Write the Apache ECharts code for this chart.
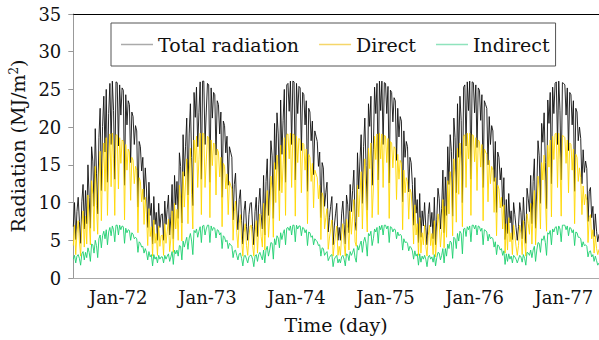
<!DOCTYPE html>
<html>
<head>
<meta charset="utf-8">
<script src="https://cdn.jsdelivr.net/npm/echarts/dist/echarts.min.js"></script>
<style>
  html, body { margin: 0; padding: 0; background: #fff; }
  #chart { width: 599px; height: 340px; }
</style>
</head>
<body>
<div id="chart"></div>
<script>
// daily radiation, one value every 5 days from 1 Jul 1971
// (MJ/m2), split by season year Jul-Jun
const total7172 = [
  6.8, 10.0, 5.1, 8.8, 10.7, 7.5, 4.6, 10.1, 12.4, 6.5,
  11.6, 7.2, 15.0, 10.7, 6.6, 17.4, 15.5, 9.5, 19.8, 13.9,
  8.5, 18.6, 22.5, 11.6, 20.1, 24.1, 16.7, 25.0, 12.7, 21.8,
  25.8, 17.7, 26.1, 22.2, 13.1, 26.0, 25.9, 17.5, 25.6, 21.6,
  25.2, 24.9, 12.3, 24.3, 20.3, 23.5, 23.0, 15.3, 22.0, 21.4,
  17.7, 20.2, 19.5, 9.4, 18.1, 17.4, 14.2, 16.0, 10.4, 14.6,
  11.8, 6.7, 12.7, 8.3, 9.9, 4.5, 10.8, 7.1, 8.7, 5.0,
  9.9, 6.7, 8.4,
];
const direct7172 = [
  4.3, 7.0, 3.1, 5.9, 7.6, 4.9, 2.9, 6.9, 8.9, 4.1,
  8.2, 4.5, 11.0, 7.3, 4.4, 12.9, 11.1, 6.2, 14.8, 9.6,
  5.8, 13.4, 16.8, 7.6, 14.5, 17.9, 11.5, 18.6, 8.3, 15.7,
  19.1, 12.1, 19.2, 15.8, 8.3, 19.0, 18.9, 11.8, 18.6, 15.2,
  18.3, 18.1, 7.7, 17.7, 14.3, 17.1, 16.7, 10.3, 16.0, 15.6,
  12.5, 14.8, 14.3, 6.0, 13.3, 12.8, 10.1, 11.8, 7.1, 10.7,
  8.4, 4.3, 9.2, 5.5, 6.8, 2.9, 7.7, 4.6, 5.9, 3.0,
  6.9, 4.2, 5.6,
];
const indirect7172 = [
  2.5, 3.0, 2.0, 2.9, 3.1, 2.6, 1.7, 3.2, 3.5, 2.4,
  3.4, 2.7, 4.0, 3.4, 2.2, 4.5, 4.4, 3.3, 5.0, 4.3,
  2.7, 5.2, 5.7, 4.0, 5.6, 6.2, 5.2, 6.4, 4.4, 6.1,
  6.7, 5.6, 6.9, 6.4, 4.8, 7.0, 7.0, 5.7, 7.0, 6.4,
  6.9, 6.8, 4.6, 6.6, 6.0, 6.4, 6.3, 5.0, 6.0, 5.8,
  5.2, 5.4, 5.2, 3.4, 4.8, 4.6, 4.1, 4.2, 3.3, 3.9,
  3.4, 2.4, 3.5, 2.8, 3.1, 1.6, 3.1, 2.5, 2.8, 2.0,
  3.0, 2.5, 2.8,
];

const total7273 = [
  8.5, 5.0, 10.2, 7.1, 9.1, 11.0, 5.7, 8.1, 12.4, 5.2,
  13.6, 9.7, 12.8, 7.9, 16.6, 14.8, 7.3, 19.0, 13.5, 17.4,
  21.2, 11.0, 19.1, 23.1, 16.0, 9.6, 24.6, 21.3, 25.3, 17.4,
  21.9, 26.0, 13.1, 26.1, 26.1, 17.7, 22.0, 25.8, 25.6, 12.7,
  25.2, 21.2, 24.6, 24.3, 16.3, 23.5, 23.0, 19.1, 22.0, 10.7,
  20.8, 20.2, 16.6, 18.8, 12.3, 17.4, 16.7, 16.0, 7.7, 12.4,
  13.9, 9.0, 6.4, 10.4, 11.7, 7.6, 4.5, 8.9, 10.2, 6.8,
  5.0, 8.4, 9.9,
];
const direct7273 = [
  5.7, 3.0, 7.2, 4.6, 6.2, 7.8, 3.5, 5.3, 8.9, 3.4,
  9.9, 6.5, 9.1, 5.0, 12.3, 10.6, 4.9, 14.1, 9.4, 12.6,
  15.8, 7.2, 13.8, 17.2, 11.1, 6.5, 18.3, 15.3, 18.8, 12.0,
  15.7, 19.2, 8.4, 19.2, 19.1, 12.0, 15.5, 18.8, 18.6, 8.0,
  18.3, 14.9, 17.9, 17.7, 11.0, 17.1, 16.7, 13.4, 16.0, 6.8,
  15.2, 14.8, 11.8, 13.8, 8.4, 12.8, 12.3, 11.8, 5.0, 8.8,
  10.2, 6.0, 4.0, 7.2, 8.4, 5.0, 2.9, 6.0, 7.2, 4.3,
  3.0, 5.6, 6.9,
];
const indirect7273 = [
  2.8, 2.0, 3.0, 2.5, 2.9, 3.2, 2.2, 2.8, 3.5, 1.8,
  3.7, 3.2, 3.7, 2.9, 4.3, 4.2, 2.4, 4.9, 4.1, 4.8,
  5.4, 3.8, 5.3, 5.9, 4.9, 3.1, 6.3, 6.0, 6.5, 5.4,
  6.2, 6.8, 4.7, 6.9, 7.0, 5.7, 6.5, 7.0, 7.0, 4.7,
  6.9, 6.3, 6.7, 6.6, 5.3, 6.4, 6.3, 5.7, 6.0, 3.9,
  5.6, 5.4, 4.8, 5.0, 3.9, 4.6, 4.4, 4.2, 2.7, 3.6,
  3.7, 3.0, 2.4, 3.2, 3.3, 2.6, 1.6, 2.9, 3.0, 2.5,
  2.0, 2.8, 3.0,
];

const total7374 = [
  10.0, 6.8, 4.4, 8.8, 10.7, 5.5, 9.7, 11.9, 8.4, 6.5,
  13.6, 5.7, 12.8, 15.8, 8.3, 11.8, 18.2, 16.2, 7.9, 20.5,
  14.4, 21.9, 19.1, 11.6, 23.6, 16.4, 20.9, 25.0, 12.7, 25.6,
  25.8, 22.1, 26.1, 17.7, 26.1, 26.0, 13.0, 25.8, 21.8, 25.4,
  25.2, 16.9, 24.6, 24.3, 20.3, 23.5, 11.5, 22.5, 22.0, 18.2,
  20.8, 13.7, 19.5, 18.8, 18.1, 14.8, 16.7, 8.0, 15.3, 14.6,
  9.5, 11.3, 12.7, 6.1, 8.0, 9.5, 10.8, 4.4, 6.9, 8.5,
  9.9, 5.0, 6.7,
];
const direct7374 = [
  7.0, 4.3, 2.9, 5.9, 7.6, 3.3, 6.6, 8.5, 5.5, 4.1,
  9.9, 3.7, 9.1, 11.6, 5.4, 8.1, 13.5, 11.6, 5.4, 15.3,
  10.0, 16.3, 13.8, 7.6, 17.6, 11.3, 15.0, 18.6, 8.3, 19.0,
  19.1, 15.8, 19.2, 12.0, 19.1, 19.0, 8.2, 18.8, 15.3, 18.5,
  18.3, 11.3, 17.9, 17.7, 14.3, 17.1, 7.2, 16.4, 16.0, 12.8,
  15.2, 9.3, 14.3, 13.8, 13.3, 10.5, 12.3, 5.1, 11.3, 10.7,
  6.5, 8.0, 9.2, 3.8, 5.3, 6.5, 7.7, 2.9, 4.4, 5.7,
  6.9, 3.0, 4.2,
];
const indirect7374 = [
  3.0, 2.5, 1.5, 2.9, 3.1, 2.2, 3.1, 3.4, 2.9, 2.4,
  3.7, 2.0, 3.7, 4.2, 2.9, 3.7, 4.7, 4.6, 2.5, 5.2,
  4.4, 5.6, 5.3, 4.0, 6.0, 5.1, 5.9, 6.4, 4.4, 6.6,
  6.7, 6.3, 6.9, 5.7, 7.0, 7.0, 4.8, 7.0, 6.5, 6.9,
  6.9, 5.6, 6.7, 6.6, 6.0, 6.4, 4.3, 6.1, 6.0, 5.4,
  5.6, 4.4, 5.2, 5.0, 4.8, 4.3, 4.4, 2.9, 4.0, 3.9,
  3.0, 3.3, 3.5, 2.3, 2.7, 3.0, 3.1, 1.5, 2.5, 2.8,
  3.0, 2.0, 2.5,
];

const total7475 = [
  5.0, 8.5, 10.2, 7.1, 4.5, 11.0, 9.7, 6.0, 12.4, 8.8,
  11.6, 14.3, 7.5, 6.3, 16.6, 11.8, 15.5, 19.0, 9.9, 17.4,
  21.2, 14.9, 9.0, 23.1, 20.1, 24.1, 12.3, 17.0, 25.3, 21.8,
  25.8, 13.0, 26.1, 22.2, 26.1, 17.7, 25.9, 25.8, 21.8, 25.4,
  12.6, 24.9, 24.6, 20.7, 23.9, 23.5, 15.6, 22.5, 18.7, 21.4,
  20.8, 10.1, 19.5, 16.0, 18.1, 17.4, 11.4, 16.0, 15.3, 12.4,
  7.0, 13.3, 8.6, 10.4, 4.7, 11.2, 5.4, 8.9, 6.9, 10.0,
  6.7, 4.4, 8.4,
];
const direct7475 = [
  3.0, 5.7, 7.2, 4.6, 2.9, 7.8, 6.6, 3.7, 8.9, 5.8,
  8.2, 10.4, 4.8, 4.2, 12.3, 8.1, 11.1, 14.1, 6.5, 12.6,
  15.8, 10.3, 6.1, 17.2, 14.5, 17.9, 8.0, 11.8, 18.8, 15.7,
  19.1, 8.4, 19.2, 15.8, 19.1, 12.0, 18.9, 18.8, 15.3, 18.5,
  7.9, 18.1, 17.9, 14.6, 17.4, 17.1, 10.4, 16.4, 13.1, 15.6,
  15.2, 6.4, 14.3, 11.3, 13.3, 12.8, 7.8, 11.8, 11.3, 8.8,
  4.5, 9.7, 5.7, 7.2, 3.0, 8.0, 3.3, 6.0, 4.4, 7.0,
  4.2, 2.9, 5.6,
];
const indirect7475 = [
  2.0, 2.8, 3.0, 2.5, 1.6, 3.2, 3.1, 2.3, 3.5, 3.0,
  3.4, 3.9, 2.7, 2.1, 4.3, 3.7, 4.4, 4.9, 3.4, 4.8,
  5.4, 4.6, 2.9, 5.9, 5.6, 6.2, 4.3, 5.2, 6.5, 6.1,
  6.7, 4.6, 6.9, 6.4, 7.0, 5.7, 7.0, 7.0, 6.5, 6.9,
  4.7, 6.8, 6.7, 6.1, 6.5, 6.4, 5.2, 6.1, 5.6, 5.8,
  5.6, 3.7, 5.2, 4.7, 4.8, 4.6, 3.6, 4.2, 4.0, 3.6,
  2.5, 3.6, 2.9, 3.2, 1.7, 3.2, 2.1, 2.9, 2.5, 3.0,
  2.5, 1.5, 2.8,
];

const total7576 = [
  10.0, 6.8, 8.7, 5.2, 10.7, 4.4, 7.8, 11.9, 10.5, 6.5,
  9.2, 14.3, 6.0, 13.4, 8.3, 17.4, 12.4, 19.0, 16.8, 8.2,
  21.2, 18.6, 11.3, 23.1, 16.0, 24.1, 20.9, 10.0, 25.3, 25.6,
  17.5, 26.0, 22.2, 26.1, 13.1, 26.0, 25.9, 21.9, 25.6, 17.3,
  25.2, 24.9, 20.9, 24.3, 12.0, 23.5, 23.0, 22.5, 15.0, 21.4,
  17.7, 20.2, 19.5, 12.8, 18.1, 8.7, 16.7, 16.0, 13.0, 14.6,
  9.5, 13.3, 5.1, 10.4, 5.9, 11.2, 7.3, 8.9, 5.1, 10.0,
  8.4, 6.7, 5.0,
];
const direct7576 = [
  7.0, 4.3, 5.9, 3.1, 7.6, 2.8, 5.1, 8.5, 7.2, 4.1,
  6.2, 10.4, 4.0, 9.5, 5.4, 12.9, 8.5, 14.1, 12.1, 5.6,
  15.8, 13.4, 7.4, 17.2, 11.1, 17.9, 15.0, 6.8, 18.8, 19.0,
  12.0, 19.2, 15.8, 19.2, 8.3, 19.0, 18.9, 15.4, 18.6, 11.6,
  18.3, 18.1, 14.7, 17.7, 7.6, 17.1, 16.7, 16.4, 10.1, 15.6,
  12.5, 14.8, 14.3, 8.7, 13.3, 5.6, 12.3, 11.8, 9.3, 10.7,
  6.5, 9.7, 3.3, 7.2, 3.7, 8.0, 4.8, 6.0, 3.1, 7.0,
  5.6, 4.2, 3.0,
];
const indirect7576 = [
  3.0, 2.5, 2.8, 2.1, 3.1, 1.6, 2.7, 3.4, 3.3, 2.4,
  3.0, 3.9, 2.0, 3.9, 2.9, 4.5, 3.9, 4.9, 4.7, 2.6,
  5.4, 5.2, 3.9, 5.9, 4.9, 6.2, 5.9, 3.2, 6.5, 6.6,
  5.5, 6.8, 6.4, 6.9, 4.8, 7.0, 7.0, 6.5, 7.0, 5.7,
  6.9, 6.8, 6.2, 6.6, 4.4, 6.4, 6.3, 6.1, 4.9, 5.8,
  5.2, 5.4, 5.2, 4.1, 4.8, 3.1, 4.4, 4.2, 3.7, 3.9,
  3.0, 3.6, 1.8, 3.2, 2.2, 3.2, 2.5, 2.9, 2.0, 3.0,
  2.8, 2.5, 2.0,
];

// last season stops at the end of May 1977
const total7677 = [
  6.8, 10.0, 8.7, 5.2, 10.7, 7.5, 4.6, 11.9, 10.5, 8.8,
  13.6, 7.2, 12.8, 15.8, 6.6, 11.8, 18.2, 16.2, 9.9, 20.5,
  18.0, 21.9, 15.3, 9.2, 23.6, 20.5, 24.6, 12.5, 25.3, 21.8,
  25.8, 26.0, 17.7, 26.1, 22.2, 13.0, 25.9, 25.8, 25.6, 21.6,
  25.2, 16.9, 24.6, 24.3, 20.3, 23.5, 11.5, 22.5, 22.0, 18.2,
  20.0, 18.5, 12.5, 17.0, 14.0, 15.5, 14.5, 7.5, 11.5, 12.0,
  8.0, 9.5, 5.5, 8.5, 6.2, 4.8, 5.8,
];
const direct7677 = [
  4.3, 7.0, 5.9, 3.1, 7.6, 4.9, 2.9, 8.5, 7.2, 5.8,
  9.9, 4.5, 9.1, 11.6, 4.4, 8.1, 13.5, 11.6, 6.5, 15.3,
  13.0, 16.3, 10.6, 6.2, 17.6, 14.7, 18.3, 8.1, 18.8, 15.7,
  19.1, 19.2, 12.0, 19.2, 15.7, 8.2, 18.9, 18.8, 18.6, 15.2,
  18.3, 11.3, 17.9, 17.7, 14.3, 17.1, 7.2, 16.4, 16.0, 12.8,
  14.6, 13.3, 8.4, 12.2, 9.7, 11.1, 10.3, 4.7, 8.0, 8.4,
  5.2, 6.4, 3.3, 5.6, 3.9, 3.1, 3.8,
];
const indirect7677 = [
  2.5, 3.0, 2.8, 2.1, 3.1, 2.6, 1.7, 3.4, 3.3, 3.0,
  3.7, 2.7, 3.7, 4.2, 2.2, 3.7, 4.7, 4.6, 3.4, 5.2,
  5.0, 5.6, 4.7, 3.0, 6.0, 5.8, 6.3, 4.4, 6.5, 6.1,
  6.7, 6.8, 5.7, 6.9, 6.5, 4.8, 7.0, 7.0, 7.0, 6.4,
  6.9, 5.6, 6.7, 6.6, 6.0, 6.4, 4.3, 6.1, 6.0, 5.4,
  5.4, 5.2, 4.1, 4.8, 4.3, 4.4, 4.2, 2.8, 3.5, 3.6,
  2.8, 3.1, 2.2, 2.9, 2.3, 1.7, 2.0,
];

const yTicks = [0, 5, 10, 15, 20, 25, 30, 35];

const DAY = 24 * 3600 * 1000;
const STEP = 5; // days between samples
const start = new Date(1971, 6, 1).getTime();

const total = [].concat(total7172, total7273, total7374, total7475, total7576, total7677);
const direct = [].concat(direct7172, direct7273, direct7374, direct7475, direct7576, direct7677);
const indirect = [].concat(indirect7172, indirect7273, indirect7374, indirect7475, indirect7576, indirect7677);

const withDates = arr => arr.map((v, i) => [start + i * STEP * DAY, v]);
const end = start + (total.length - 1) * STEP * DAY;

const FONT = 'DejaVu Serif';

const chart = echarts.init(document.getElementById('chart'), null, { renderer: 'svg' });
chart.setOption({
  animation: false,
  grid: {
    left: 72,
    right: 0,
    top: 14,
    bottom: 62,
  },
  legend: {
    left: 111,
    top: 23,
    padding: [12, 6, 12, 10],
    borderColor: '#555',
    borderWidth: 1,
    icon: 'rect',
    itemWidth: 32,
    itemHeight: 1.5,
    itemGap: 20,
    textStyle: {
      fontFamily: FONT,
      fontSize: 19,
      color: '#111',
    },
    data: [
      { name: 'Total radiation', itemStyle: { color: '#aaaaaa' } },
      { name: 'Direct', itemStyle: { color: '#f5d66a' } },
      { name: 'Indirect', itemStyle: { color: '#8fe3bd' } },
    ],
  },
  xAxis: [
    {
      type: 'time',
      min: start,
      max: end,
      splitNumber: 6,
      name: 'Time (day)',
      nameLocation: 'middle',
      nameGap: 37,
      nameTextStyle: { fontFamily: FONT, fontSize: 19, color: '#111' },
      axisLine: { lineStyle: { color: '#aaa', width: 1 } },
      axisTick: { show: false },
      splitLine: { show: false },
      axisLabel: {
        margin: 10,
        fontFamily: FONT,
        fontSize: 18,
        color: '#111',
        showMinLabel: false,
        showMaxLabel: false,
        formatter: (val) => {
          const d = new Date(val);
          if (d.getMonth() !== 0 || d.getDate() !== 1) return '';
          return 'Jan-' + String(d.getFullYear()).slice(2);
        },
      },
    },
    {
      // top frame line
      type: 'time',
      position: 'top',
      min: start,
      max: end,
      axisLine: { lineStyle: { color: '#000', width: 1.2 } },
      axisTick: { show: false },
      axisLabel: { show: false },
      splitLine: { show: false },
    },
  ],
  yAxis: {
    type: 'value',
    min: yTicks[0],
    max: yTicks[yTicks.length - 1],
    interval: 5,
    name: 'Radiation (MJ/m{sup|2})',
    nameLocation: 'middle',
    nameGap: 43,
    nameTextStyle: {
      fontFamily: FONT,
      fontSize: 19,
      color: '#111',
      rich: {
        sup: { fontFamily: FONT, fontSize: 12, verticalAlign: 'top', padding: [0, 0, 8, 0] },
      },
    },
    axisLine: { show: true, lineStyle: { color: '#999', width: 1 } },
    axisTick: { show: true, length: 5, lineStyle: { color: '#999' } },
    splitLine: { show: false },
    axisLabel: {
      margin: 12,
      fontFamily: FONT,
      fontSize: 18,
      color: '#111',
    },
  },
  series: [
    {
      name: 'Total radiation',
      type: 'line',
      data: withDates(total),
      showSymbol: false,
      symbol: 'none',
      itemStyle: { color: '#000' },
      lineStyle: { color: '#111', width: 0.9 },
    },
    {
      name: 'Direct',
      type: 'line',
      data: withDates(direct),
      showSymbol: false,
      symbol: 'none',
      itemStyle: { color: '#ffd700' },
      lineStyle: { color: '#ffd700', width: 0.9 },
    },
    {
      name: 'Indirect',
      type: 'line',
      data: withDates(indirect),
      showSymbol: false,
      symbol: 'none',
      itemStyle: { color: '#1ccf6e' },
      lineStyle: { color: '#1ccf6e', width: 0.9 },
    },
  ],
});
</script>
</body>
</html>
